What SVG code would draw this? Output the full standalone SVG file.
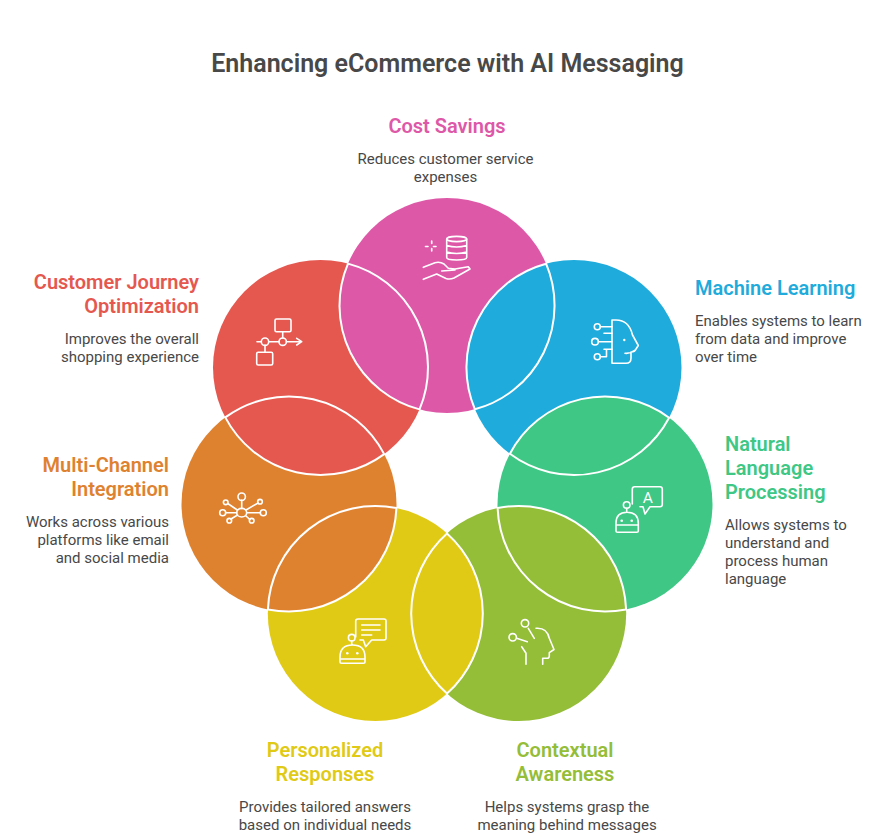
<svg xmlns="http://www.w3.org/2000/svg" width="892" height="836" viewBox="0 0 892 836">
<style>
text{font-family:Roboto,"Liberation Sans",sans-serif}
.title{font-size:25px;font-weight:600;fill:#484848}
.h{font-size:20px;font-weight:600}
.d{font-size:15px;fill:#484848}
.m{text-anchor:middle}.e{text-anchor:end}
.i{fill:none;stroke:#fff;stroke-width:1.6;stroke-linecap:round;stroke-linejoin:round}
.dot{fill:#fff}
.lens{stroke:#fff;stroke-width:2}
.pink{fill:#DE58A8}.blue{fill:#1FABDB}.green{fill:#3EC785}.olive{fill:#94BD38}.yellow{fill:#E0CA15}.orange{fill:#DF8230}.red{fill:#E55850}
</style>
<rect width="892" height="836" fill="#fff"/>
<text class="title m" x="447.500" y="72">Enhancing eCommerce with AI Messaging</text>
<g id="node-cost-savings">
<circle class="pink" cx="447" cy="305.500" r="107.500"/>
<text class="h m pink" x="447" y="133">Cost Savings</text>
<text class="d m" x="445.500" y="164">Reduces customer service</text>
<text class="d m" x="445.500" y="182">expenses</text>
<g class="i">
<ellipse cx="456.700" cy="239" rx="10" ry="2.600"/>
<path d="M446.700 239v18.500q0 2.500 10 2.500t10-2.500V239M446.700 245.500q10 3 20 0M446.700 252q10 3 20 0"/>
<path d="M431.700 241v2.500M431.700 248.500v2.500M425.500 246.500h2.500M433.500 246.500h2.500"/>
<path d="M423.300 267.300L435 262.700Q440 261.500 444 264L448.300 268.300L455 269L468.300 266.700L470 269L454 278Q450 279.800 446 278.500L436.700 274L423.300 279.300M441.700 271L455 270"/>
</g>
</g>
<g id="node-machine-learning">
<circle class="blue" cx="574" cy="367.500" r="107.500"/>
<text class="h blue" x="695" y="295">Machine Learning</text>
<text class="d" x="695" y="326">Enables systems to learn</text>
<text class="d" x="695" y="344">from data and improve</text>
<text class="d" x="695" y="362">over time</text>
<g class="i">
<path d="M612 320V363.300H626Q631 363.300 631 358V352Q635 352 636 349L638.300 345.500L632.500 335Q629 320 616 320H612M625 353.300Q630 354 635 350"/>
<circle cx="597.300" cy="326.700" r="3"/><circle cx="595" cy="341.700" r="3.300"/><circle cx="597.300" cy="356.700" r="3"/>
<path d="M600.500 326.700H612M604 333.300H612M598.500 341.700H612M604 349.300H612M600.500 356.700H606.500V350"/>
</g>
<circle class="dot" cx="624.300" cy="340" r="1.200"/>
</g>
<g id="node-natural-language-processing">
<circle class="green" cx="605" cy="504" r="107.500"/>
<text class="h green" x="725" y="451">Natural</text>
<text class="h green" x="725" y="475">Language</text>
<text class="h green" x="725" y="499">Processing</text>
<text class="d" x="725" y="530">Allows systems to</text>
<text class="d" x="725" y="548">understand and</text>
<text class="d" x="725" y="566">process human</text>
<text class="d" x="725" y="584">language</text>
<g class="i">
<path d="M632.300 504V489Q632.300 486.700 634.600 486.700H660Q662.300 486.700 662.300 489V504.500Q662.300 506.700 660 506.700H650L645 514L643 506.700H640"/>
<circle cx="626.700" cy="505" r="3.300"/>
<path d="M626.700 508.300V512.300M616 525V523.300Q616 512.300 627 512.300Q638.300 512.300 638.300 523.300V525ZM616 525V531Q616 532.300 617.500 532.300H636.800Q638.300 532.300 638.300 531V525"/>
</g>
<text x="647.700" y="503" font-size="15.500" fill="#fff" text-anchor="middle">A</text>
<circle class="dot" cx="621.700" cy="520.700" r="1.300"/><circle class="dot" cx="631.700" cy="520.700" r="1.300"/>
</g>
<g id="node-contextual-awareness">
<circle class="olive" cx="518.700" cy="613.500" r="107.500"/>
<text class="h m olive" x="565" y="757">Contextual</text>
<text class="h m olive" x="565" y="781">Awareness</text>
<text class="d m" x="567" y="812">Helps systems grasp the</text>
<text class="d m" x="567" y="830">meaning behind messages</text>
<g class="i">
<circle cx="525" cy="623.300" r="3.700"/><circle cx="512.700" cy="637.300" r="3.700"/>
<path d="M528.300 628.300L534.300 638.300M516.700 638.300L527.300 641.700M536 628.300Q547 627.500 549.300 638.300L554 649.500L549.300 652.700V656Q549.300 658.300 547 658.300H542.700V664.300M521.700 646.700L526 653.300V664.300"/>
</g>
</g>
<g id="node-personalized-responses">
<circle class="yellow" cx="375.300" cy="613.500" r="107.500"/>
<text class="h m" fill="#E0CA15" x="325" y="757">Personalized</text>
<text class="h m" fill="#E0CA15" x="325" y="781">Responses</text>
<text class="d m" x="325" y="812">Provides tailored answers</text>
<text class="d m" x="325" y="830">based on individual needs</text>
<g class="i">
<path d="M355.700 637V621Q355.700 619 358 619H384Q386 619 386 621V638Q386 640 384 640H371.700L365.700 646.700L363.300 640H360"/>
<path d="M361.700 625H380M361.700 630H380M361.700 635H371.700"/>
<circle cx="351.700" cy="637.700" r="3.300"/>
<path d="M351.700 641V645M340 659V657Q340 645 352.500 645Q365 645 365 657V659ZM340 659V662Q340 663.300 341.500 663.300H363.500Q365 663.300 365 662V659"/>
</g>
<circle class="dot" cx="347.300" cy="653.300" r="1.300"/><circle class="dot" cx="357.300" cy="653.300" r="1.300"/>
</g>
<g id="node-multi-channel-integration">
<circle class="orange" cx="289" cy="504" r="107.500"/>
<text class="h e orange" x="169" y="472">Multi-Channel</text>
<text class="h e orange" x="169" y="496">Integration</text>
<text class="d e" x="169" y="527">Works across various</text>
<text class="d e" x="169" y="545">platforms like email</text>
<text class="d e" x="169" y="563">and social media</text>
<g class="i">
<ellipse cx="241.700" cy="512.700" rx="5" ry="4.300"/>
<circle cx="241.700" cy="496.700" r="3.700"/><circle cx="225.700" cy="502.300" r="2.300"/><circle cx="260" cy="501.700" r="2.300"/><circle cx="222.700" cy="512.700" r="3"/><circle cx="263.300" cy="512.700" r="3"/><circle cx="229.300" cy="520.700" r="2.300"/><circle cx="251.700" cy="520.700" r="2.300"/>
<path d="M241.700 500.400V508.400M227.700 503.500L237.300 510M258 503L246 510M225.700 512.700H236.700M260.300 512.700H246.700M231 519L237.500 515M249.800 519.500L245.500 515.500"/>
</g>
</g>
<g id="node-customer-journey-optimization">
<circle class="red" cx="320.500" cy="367.500" r="107.500"/>
<text class="h e red" x="199" y="289">Customer Journey</text>
<text class="h e red" x="199" y="313">Optimization</text>
<text class="d e" x="199" y="344">Improves the overall</text>
<text class="d e" x="199" y="362">shopping experience</text>
<g class="i">
<rect x="275" y="319" width="16" height="12.700" rx="1.500"/>
<rect x="256.700" y="352.300" width="16" height="12.700" rx="1.500"/>
<circle cx="265" cy="341.700" r="3.700"/><circle cx="282.700" cy="341.700" r="3.700"/>
<path d="M257 341.700H261.300M268.700 341.700H279M286.400 341.700H301.700M296.700 338.300L301.700 341.700L296.700 345M282.700 331.700V338M265 345.400V352.300"/>
</g>
</g>
<g id="connectors">
<path class="lens pink" d="M419.500 409.400A107.500 107.500 0 0 0 348 263.600A107.500 107.500 0 0 0 419.500 409.400Z"/>
<path class="lens blue" d="M474.900 409.300A107.500 107.500 0 0 1 546.100 263.700A107.500 107.500 0 0 1 474.900 409.300Z"/>
<path class="lens green" d="M669.100 417.700A107.500 107.500 0 0 0 509.900 453.800A107.500 107.500 0 0 0 669.100 417.700Z"/>
<path class="lens olive" d="M626.100 609.400A107.500 107.500 0 0 0 497.600 508.100A107.500 107.500 0 0 0 626.100 609.400Z"/>
<path class="lens yellow" d="M447 533.400A107.500 107.500 0 0 0 447 693.600A107.500 107.500 0 0 0 447 533.400Z"/>
<path class="lens orange" d="M396.400 508.100A107.500 107.500 0 0 0 267.900 609.400A107.500 107.500 0 0 0 396.400 508.100Z"/>
<path class="lens red" d="M384.200 454.100A107.500 107.500 0 0 0 225.300 417.400A107.500 107.500 0 0 0 384.200 454.100Z"/>
</g>
</svg>
